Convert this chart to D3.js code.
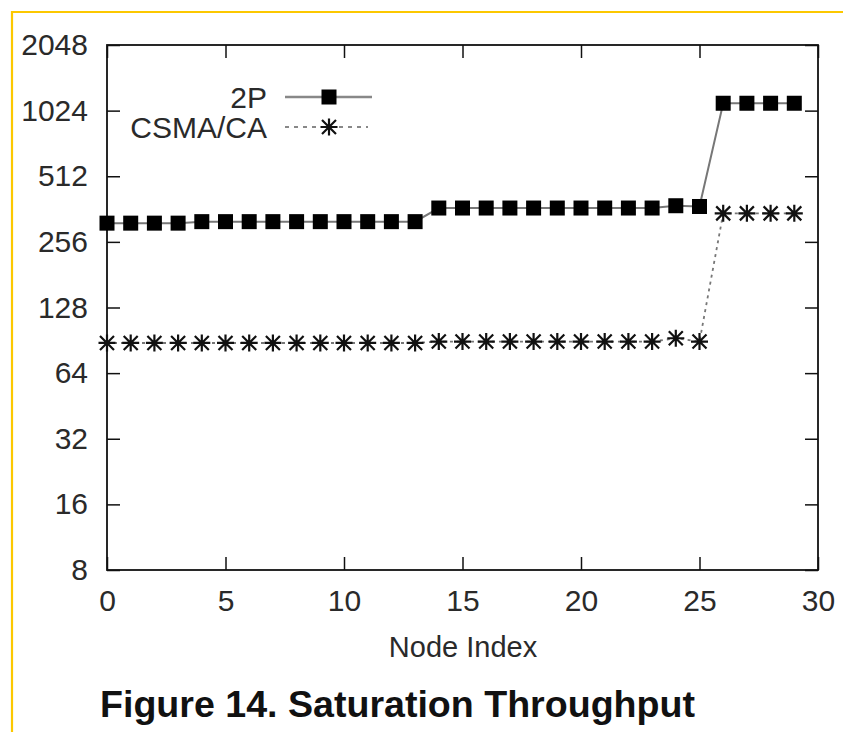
<!DOCTYPE html>
<html>
<head>
<meta charset="utf-8">
<script src="https://cdn.jsdelivr.net/npm/d3@7"></script>
<style>
  html, body { margin: 0; padding: 0; background: #fff; }
  svg { display: block; }
</style>
</head>
<body>
<svg id="chart" width="843" height="732"></svg>
<script>
// ---- data ----
const nodes = d3.range(0, 30);
const series2P = [312, 312, 312, 312, 317, 317, 317, 317, 317, 317, 317, 317, 317, 317,
                  366, 366, 366, 366, 366, 366, 366, 366, 366, 366, 375, 372,
                  1107, 1107, 1107, 1107];
const seriesCSMA = [88, 88, 88, 88, 88, 88, 88, 88, 88, 88, 88, 88, 88, 88,
                    89.3, 89.3, 89.3, 89.3, 89.3, 89.3, 89.3, 89.3, 89.3, 89.3, 92.5, 89.3,
                    346, 346, 346, 346];
const seriesNames = ["2P", "CSMA/CA"];
const yTicks = [8, 16, 32, 64, 128, 256, 512, 1024, 2048];
const xTicks = [0, 5, 10, 15, 20, 25, 30];
const xTitle = "Node Index";
const caption = "Figure 14. Saturation Throughput";

// ---- layout ----
const svg = d3.select("#chart");
const L = 107, R = 818, T = 45, B = 570;
const font = "Liberation Sans, Arial, Helvetica, sans-serif";

const x = d3.scaleLinear().domain([0, 30]).range([L, R]);
const y = d3.scaleLog().base(2).domain([8, 2048]).range([B, T]);

// yellow border
svg.append("path")
  .attr("d", `M12,732 L12,12 L843,12`)
  .attr("fill", "none").attr("stroke", "#fcc800").attr("stroke-width", 2.2);

// axes
function styleAxis(g) {
  g.select(".domain").remove();
  g.selectAll("line").attr("stroke", "#111").attr("stroke-width", 1.5);
  g.selectAll("text").attr("font-family", font).attr("font-size", 30).attr("fill", "#2a2a2a");
}
svg.append("g").attr("transform", `translate(${L},0)`)
  .call(d3.axisLeft(y).tickValues(yTicks).tickFormat(d3.format("d")).tickSize(-13).tickSizeOuter(0).tickPadding(19))
  .call(styleAxis);
svg.append("g").attr("transform", `translate(${R},0)`)
  .call(d3.axisRight(y).tickValues(yTicks).tickFormat("").tickSize(-13).tickSizeOuter(0))
  .call(styleAxis);
svg.append("g").attr("transform", `translate(0,${B})`)
  .call(d3.axisBottom(x).tickValues(xTicks).tickFormat(d3.format("d")).tickSize(-13).tickSizeOuter(0).tickPadding(20))
  .call(styleAxis);
svg.append("g").attr("transform", `translate(0,${T})`)
  .call(d3.axisTop(x).tickValues(xTicks).tickFormat("").tickSize(-13).tickSizeOuter(0))
  .call(styleAxis);

// frame
svg.append("rect").attr("x", L).attr("y", T).attr("width", R - L).attr("height", B - T)
  .attr("fill", "none").attr("stroke", "#111").attr("stroke-width", 1.8);

// lines
const line = d3.line().x((d, i) => x(nodes[i])).y(d => y(d));
svg.append("path").datum(series2P).attr("d", line)
  .attr("fill", "none").attr("stroke", "#777").attr("stroke-width", 2);
svg.append("path").datum(seriesCSMA).attr("d", line)
  .attr("fill", "none").attr("stroke", "#777").attr("stroke-width", 1.8).attr("stroke-dasharray", "3,4");

// markers
const sq = 15;
function square(g, cx, cy) {
  g.append("rect").attr("x", cx - sq / 2).attr("y", cy - sq / 2).attr("width", sq).attr("height", sq).attr("fill", "#000");
}
function star(g, cx, cy) {
  const r = 8.5, d = 7;
  const p = `M${cx - r},${cy}L${cx + r},${cy}M${cx},${cy - r}L${cx},${cy + r}` +
            `M${cx - d},${cy - d}L${cx + d},${cy + d}M${cx - d},${cy + d}L${cx + d},${cy - d}`;
  g.append("path").attr("d", p).attr("stroke", "#111").attr("stroke-width", 2.2).attr("fill", "none");
}
const mk = svg.append("g");
series2P.forEach((v, i) => square(mk, x(nodes[i]), y(v)));
seriesCSMA.forEach((v, i) => star(mk, x(nodes[i]), y(v)));

// legend
const lg = svg.append("g");
const legY = [97, 127];
seriesNames.forEach((n, i) => {
  lg.append("text").attr("x", 267).attr("y", legY[i]).attr("dy", "0.35em")
    .attr("text-anchor", "end").attr("font-family", font).attr("font-size", 30).attr("fill", "#2a2a2a").text(n);
});
lg.append("line").attr("x1", 285).attr("x2", 372).attr("y1", legY[0]).attr("y2", legY[0])
  .attr("stroke", "#888").attr("stroke-width", 2.5);
square(lg, 329, legY[0]);
lg.append("line").attr("x1", 285).attr("x2", 368).attr("y1", legY[1]).attr("y2", legY[1])
  .attr("stroke", "#888").attr("stroke-width", 2).attr("stroke-dasharray", "4,5");
star(lg, 329, legY[1]);

// axis title
svg.append("text").attr("x", 463).attr("y", 657).attr("text-anchor", "middle")
  .attr("font-family", font).attr("font-size", 29).attr("fill", "#2a2a2a").text(xTitle);

// caption
svg.append("text").attr("x", 100).attr("y", 717)
  .attr("font-family", font).attr("font-size", 36).attr("font-weight", "bold").attr("fill", "#111")
  .attr("textLength", 595).attr("lengthAdjust", "spacingAndGlyphs").text(caption);
</script>
</body>
</html>
